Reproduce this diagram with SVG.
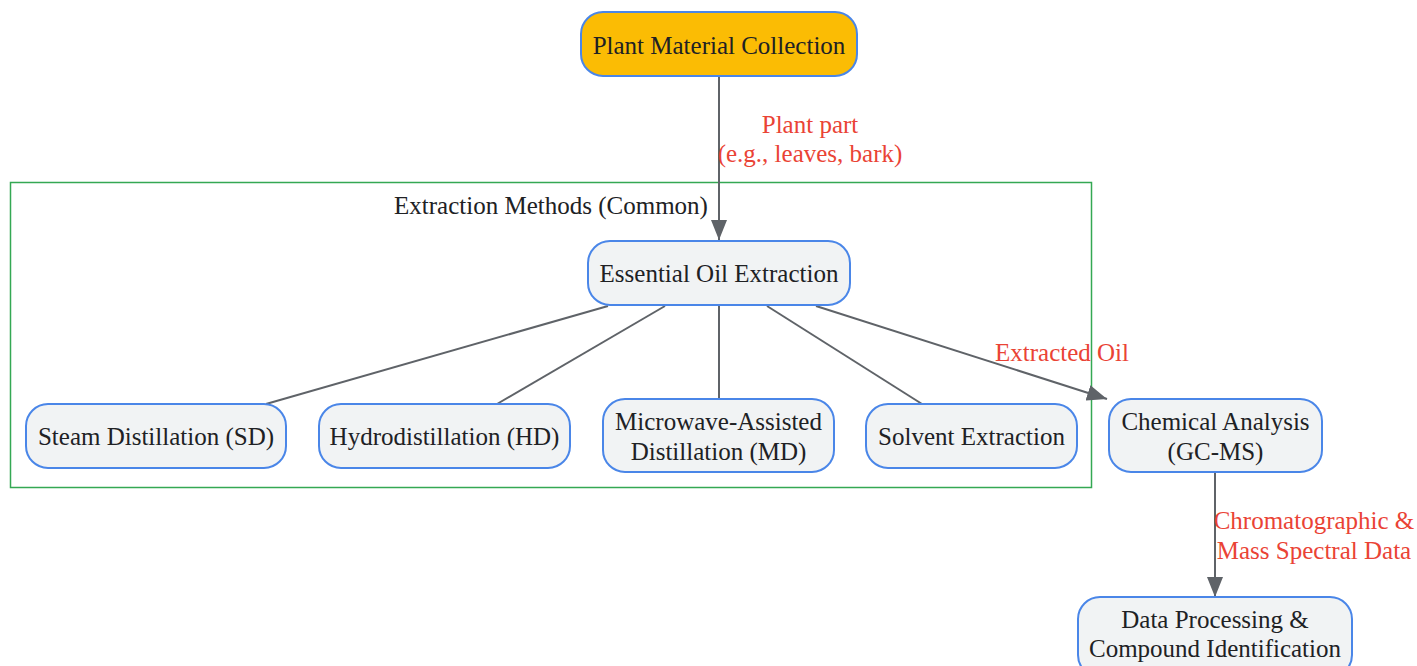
<svg xmlns="http://www.w3.org/2000/svg" width="1417" height="666" viewBox="0 0 1417 666">
<defs>
<style>
.n{fill:#f1f3f4;stroke:#4a86e8;stroke-width:2}
.t{font-family:"Liberation Serif",serif;font-size:25px;fill:#202124;text-anchor:middle}
.l{font-family:"Liberation Serif",serif;font-size:25px;fill:#ea4335;text-anchor:middle}
.e{stroke:#5f6368;stroke-width:2;fill:none}
</style>
<marker id="ah2" viewBox="0 0 20 16" refX="20" refY="8" markerWidth="20" markerHeight="16" markerUnits="userSpaceOnUse" orient="auto">
<path d="M0,0 L20,8 L0,16 z" fill="#5f6368"/>
</marker>
</defs>
<rect width="1417" height="666" fill="#fff"/>
<g id="cluster">
<rect x="10.5" y="182.5" width="1081" height="305" fill="none" stroke="#34a853" stroke-width="1.5"/>
<text class="t" x="551" y="213.5">Extraction Methods (Common)</text>
</g>
<g id="connectors">
<path class="e" d="M719,76 L719,240" marker-end="url(#ah2)"/>
<text class="l" x="810" y="132.5">Plant part</text>
<text class="l" x="810" y="161.5">(e.g., leaves, bark)</text>
<path class="e" d="M608,306 L266,404"/>
<path class="e" d="M665,306 L497,404"/>
<path class="e" d="M719,306 L719,399"/>
<path class="e" d="M767,306 L922,404"/>
<path class="e" d="M816,306 L1107,399" marker-end="url(#ah2)"/>
<text class="l" x="1062" y="360.5">Extracted Oil</text>
<path class="e" d="M1215,473 L1215,597" marker-end="url(#ah2)"/>
<text class="l" x="1314" y="528.5">Chromatographic &amp;</text>
<text class="l" x="1314" y="558.5">Mass Spectral Data</text>
</g>
<g id="plant">
<rect x="581" y="12" width="276" height="64" rx="22" fill="#fbbc04" stroke="#4a86e8" stroke-width="2"/>
<text class="t" x="719" y="53.5">Plant Material Collection</text>
</g>
<g id="essential">
<rect class="n" x="588" y="241" width="262" height="64" rx="22"/>
<text class="t" x="719" y="281.5">Essential Oil Extraction</text>
</g>
<g id="sd">
<rect class="n" x="26" y="404" width="260" height="64" rx="22"/>
<text class="t" x="156" y="444.5">Steam Distillation (SD)</text>
</g>
<g id="hd">
<rect class="n" x="319" y="404" width="251" height="64" rx="22"/>
<text class="t" x="444.5" y="444.5">Hydrodistillation (HD)</text>
</g>
<g id="md">
<rect class="n" x="603" y="399" width="231" height="73" rx="22"/>
<text class="t" x="718.5" y="429.5">Microwave-Assisted</text>
<text class="t" x="718.5" y="459.5">Distillation (MD)</text>
</g>
<g id="solvent">
<rect class="n" x="866" y="404" width="211" height="64" rx="22"/>
<text class="t" x="971.5" y="444.5">Solvent Extraction</text>
</g>
<g id="gcms">
<rect class="n" x="1109" y="399" width="213" height="73" rx="22"/>
<text class="t" x="1215.5" y="429.5">Chemical Analysis</text>
<text class="t" x="1215.5" y="459.5">(GC-MS)</text>
</g>
<g id="data">
<rect class="n" x="1078" y="597" width="274" height="80" rx="22"/>
<text class="t" x="1215" y="627.5">Data Processing &amp;</text>
<text class="t" x="1215" y="656.5">Compound Identification</text>
</g>
</svg>
